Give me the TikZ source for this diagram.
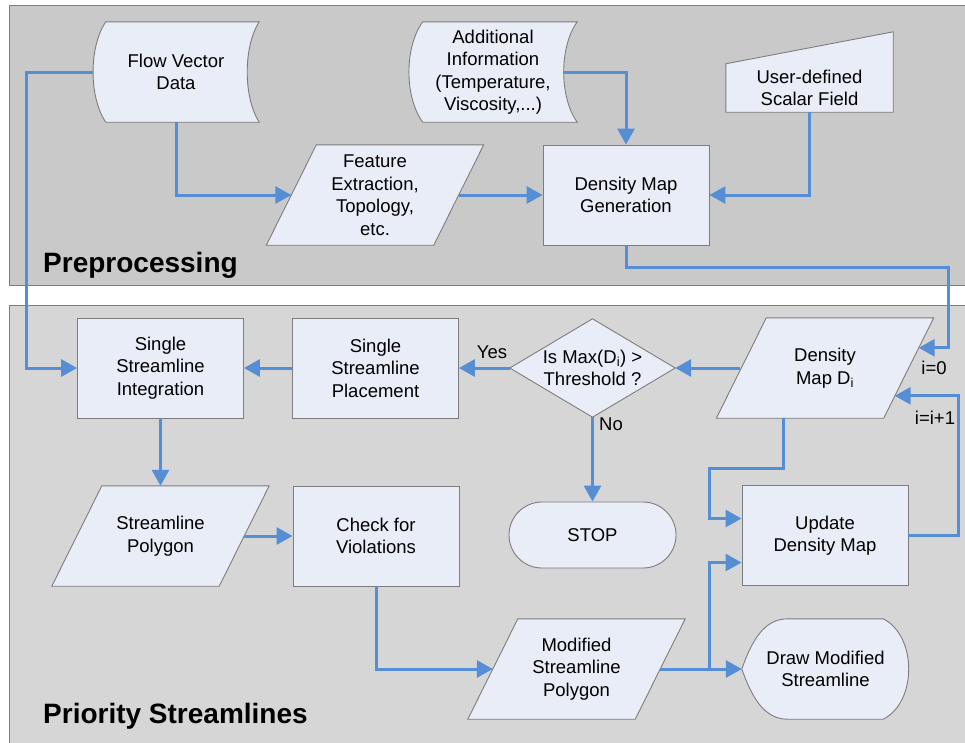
\documentclass[tikz,border=0pt]{standalone}
\usepackage{fontspec}
\setmainfont{Liberation Sans}
\usetikzlibrary{arrows.meta,calc}
\pgfdeclarelayer{panel}
\pgfdeclarelayer{shape}
\pgfsetlayers{panel,shape,main}

\definecolor{panA}{RGB}{201,201,201}
\definecolor{panB}{RGB}{214,214,214}
\definecolor{boxfill}{RGB}{233,237,247}
\definecolor{boxline}{RGB}{125,125,125}
\definecolor{arrc}{RGB}{85,142,213}

\tikzset{
  txt/.style={align=center, font=\fontsize{18.5}{22.5}\selectfont, inner sep=0pt, text=black},
  area/.style 2 args={txt, minimum width=#1, minimum height=#2},
  rectbox/.style={area={166}{100}, draw=boxline, fill=boxfill, line width=0.9pt},
  outline/.style={draw=boxline, fill=boxfill, line width=0.9pt},
  arr/.style={draw=arrc, line width=3pt, -{Triangle[length=16pt,width=17pt]}},
  lbl/.style={txt},
  paneltitle/.style={font=\bfseries\fontsize{28}{32}\selectfont, inner sep=0pt, anchor=base west},
}

\begin{document}
\begin{tikzpicture}[x=1pt, y=-1pt]
\useasboundingbox (0,0) rectangle (965,742);

% panels
\begin{pgfonlayer}{panel}
  \draw[draw=boxline, fill=panA, line width=0.9pt] (9,5) rectangle (975,285);
  \draw[draw=boxline, fill=panB, line width=0.9pt] (9,305) rectangle (975,760);
\end{pgfonlayer}
\node[paneltitle] (pre) at (43,272) {Preprocessing};
\node[paneltitle] (pri) at (43,723) {Priority Streamlines};

% ---------- top nodes ----------
\node[area={166}{100}] (fvd) at (176,72) {Flow Vector\\Data};
\node[area={168}{100}] (ai) at (493,72) {Additional\\Information\\(Temperature,\\Viscosity,...)};
\node[area={217}{100}] (fe) at (375,195) {Feature\\Extraction,\\Topology,\\etc.};
\node[rectbox] (dmg) at (626,195) {Density Map\\Generation};
\node[area={167}{48}] (usf) at (809.5,88) {User-defined\\Scalar Field};

% ---------- bottom nodes ----------
\node[rectbox] (ssi) at (160.5,368) {Single\\Streamline\\Integration};
\node[rectbox] (ssp) at (375.5,368) {Single\\Streamline\\Placement};
\node[area={165}{98}] (dia) at (592.5,368) {Is Max(D\textsubscript{i}) >\\Threshold ?};
\node[area={217}{100}] (di) at (825,368) {Density\\Map D\textsubscript{i}};
\node[area={167}{66}, draw=boxline, fill=boxfill, line width=0.9pt, rounded corners=33pt] (stop) at (592.5,535) {STOP};
\node[area={217}{100}] (sp) at (160.5,536) {Streamline\\Polygon};
\node[rectbox] (cfv) at (376,536) {Check for\\Violations};
\node[rectbox] (ud) at (825,535.5) {Update\\Density Map};
\node[area={217}{100}] (msp) at (576.5,669) {Modified\\Streamline\\Polygon};
\node[area={167}{100}] (dms) at (825.5,669) {Draw Modified\\Streamline};

% ---------- outlines ----------
\begin{pgfonlayer}{shape}
  % stored data shapes
  \path[outline] ($(fvd.north west)+(13,0)$) -- (fvd.north east)
     .. controls ($(fvd.north east)+(-16,25)$) and ($(fvd.south east)+(-16,-25)$) .. (fvd.south east)
     -- ($(fvd.south west)+(13,0)$)
     .. controls ($(fvd.south west)+(-4,-25)$) and ($(fvd.north west)+(-4,25)$) .. cycle;
  \path[outline] ($(ai.north west)+(14,0)$) -- (ai.north east)
     .. controls ($(ai.north east)+(-18,25)$) and ($(ai.south east)+(-18,-25)$) .. (ai.south east)
     -- ($(ai.south west)+(14,0)$)
     .. controls ($(ai.south west)+(-4.5,-25)$) and ($(ai.north west)+(-4.5,25)$) .. cycle;
  % manual input
  \path[outline] (usf.south west) -- (usf.north west) -- ($(usf.north east)+(0,-32)$) -- (usf.south east) -- cycle;
  % parallelograms
  \foreach \n in {fe,di,sp,msp}{
    \path[outline] ($(\n.north west)+(50,0)$) -- (\n.north east) -- ($(\n.south east)+(-50,0)$) -- (\n.south west) -- cycle;
  }
  % diamond
  \path[outline] (dia.north) -- (dia.east) -- (dia.south) -- (dia.west) -- cycle;
  % display
  \path[outline] (dms.west) .. controls ($(dms.west)+(10,-28)$) and ($(dms.north west)+(22,0)$) .. ($(dms.north west)+(46,0)$)
     -- ($(dms.north east)+(-26,0)$)
     .. controls ($(dms.north east)+(8,17)$) and ($(dms.south east)+(8,-17)$) .. ($(dms.south east)+(-26,0)$)
     -- ($(dms.south west)+(46,0)$)
     .. controls ($(dms.south west)+(22,0)$) and ($(dms.west)+(10,28)$) .. (dms.west) -- cycle;
\end{pgfonlayer}

% ---------- helper coordinates ----------
\coordinate (turnA) at (948,267);
\coordinate (turnB) at (709,468);

% ---------- connectors ----------
\draw[arr] (fvd.west) -- ++(-66,0) |- (ssi.west);
\draw[arr] (fvd.south) |- ($(fe.west)+(25,0)$);
\draw[arr] ($(ai.east)+(-14,0)$) -| (dmg.north);
\draw[arr] ($(fe.east)+(-25,0)$) -- (dmg.west);
\draw[arr] (usf.south) |- (dmg.east);
\draw[arr] (dmg.south) |- (turnA) |- ($(di.north east)+(-15,30)$);
\node[lbl] (i0) at (934,368) {i=0};

\draw[arr] ($(di.west)+(24,0)$) -- (dia.east);
\draw[arr] (dia.west) -- (ssp.east);
\node[lbl] (yes) at (492,352) {Yes};
\draw[arr] (dia.south) -- (stop.north);
\node[lbl] (no) at (611,424) {No};
\draw[arr] (ssp.west) -- (ssi.east);
\draw[arr] (ssi.south) -- (sp.north);
\draw[arr] ($(sp.east)+(-25,0)$) -- (cfv.west);
\draw[arr] (cfv.south) |- ($(msp.west)+(25,0)$);
\draw[arr] ($(msp.east)+(-25,0)$) -- (dms.west) coordinate[pos=0.6] (br);
\draw[arr] (br) |- ($(ud.west)+(0,27)$);
\draw[arr] ($(di.south)+(-42,0)$) |- (turnB) |- ($(ud.west)+(0,-17)$);
\draw[arr] (ud.east) -- ++(50,0) |- ($(di.north east)+(-39,78)$);
\node[lbl] (inc) at (935,418) {i=i+1};
\end{tikzpicture}
\end{document}
